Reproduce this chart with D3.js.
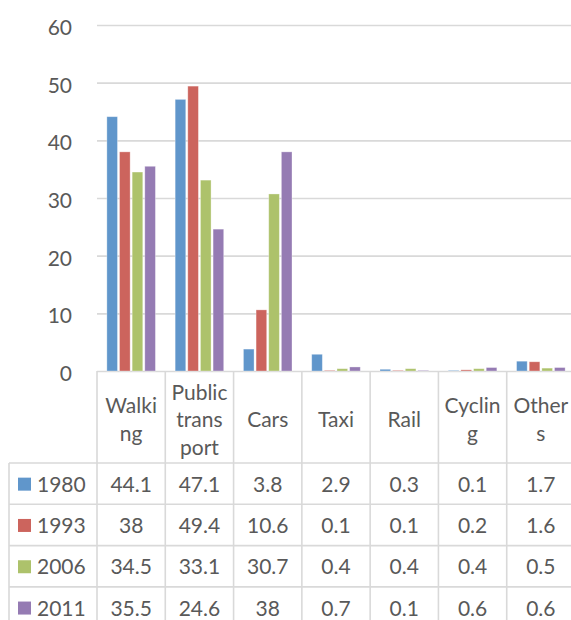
<!DOCTYPE html>
<html>
<head>
<meta charset="utf-8">
<script src="https://cdn.jsdelivr.net/npm/d3@7"></script>
<style>
  body { margin: 0; background: #fff; }
  text { font-family: Lato, "Open Sans", sans-serif; fill: #595959; }
</style>
</head>
<body>
<svg id="chart"></svg>
<script>
const categories = ['Walking', 'Public transport', 'Cars', 'Taxi', 'Rail', 'Cycling', 'Others'];
const categoryLines = [['Walki', 'ng'], ['Public', 'trans', 'port'], ['Cars'], ['Taxi'], ['Rail'], ['Cyclin', 'g'], ['Other', 's']];
const years = ['1980', '1993', '2006', '2011'];
const values1980 = [44.1, 47.1, 3.8, 2.9, 0.3, 0.1, 1.7];
const values1993 = [38, 49.4, 10.6, 0.1, 0.1, 0.2, 1.6];
const values2006 = [34.5, 33.1, 30.7, 0.4, 0.4, 0.4, 0.5];
const values2011 = [35.5, 24.6, 38, 0.7, 0.1, 0.6, 0.6];
const yTicks = [0, 10, 20, 30, 40, 50, 60];
const colors = ['#6096cb', '#cc645d', '#adc26b', '#957bb3'];

const series = [values1980, values1993, values2006, values2011];

const width = 571;
const height = 620;
const plot = { left: 97, right: 575, top: 25, bottom: 371 };
const headerBottom = 463;
const rowH = 41.3;
const tableLeft = 9;
const gridColor = '#d9d9d9';
const fontSize = 21;

const svg = d3.select('#chart').attr('width', width).attr('height', height);

const x0 = d3.scaleBand()
  .domain(categories)
  .range([plot.left, plot.right]);

const x1 = d3.scaleBand()
  .domain(years)
  .range([0, x0.bandwidth()])
  .paddingInner(0.16)
  .paddingOuter(0.78);

const y = d3.scaleLinear()
  .domain([0, 60])
  .range([plot.bottom, plot.top]);

const rows = d3.scaleBand()
  .domain(years)
  .range([headerBottom, headerBottom + rowH * years.length]);

const color = d3.scaleOrdinal().domain(years).range(colors);

// gridlines + y labels
const yAxis = svg.append('g')
  .attr('transform', `translate(${plot.left},0)`)
  .call(d3.axisLeft(y).tickValues(yTicks).tickSize(-(width - plot.left)).tickPadding(25));
yAxis.select('.domain').remove();
yAxis.selectAll('.tick line').attr('stroke', gridColor).attr('stroke-width', 1.6);
yAxis.selectAll('.tick text')
  .attr('font-size', fontSize)
  .attr('dy', '0.45em')
  .style('fill', '#595959');

// bars
const groups = svg.append('g').selectAll('g')
  .data(categories)
  .enter().append('g')
  .attr('transform', d => `translate(${x0(d)},0)`);

groups.selectAll('rect')
  .data((d, i) => years.map((yr, j) => ({ year: yr, value: series[j][i] })))
  .enter().append('rect')
  .attr('x', d => x1(d.year))
  .attr('y', d => y(d.value))
  .attr('width', x1.bandwidth())
  .attr('height', d => y(0) - y(d.value))
  .attr('fill', d => color(d.year))
  .attr('stroke', '#fff')
  .attr('stroke-opacity', 0.4)
  .attr('stroke-width', 0.8);

// table lines
const table = svg.append('g').attr('stroke', gridColor).attr('stroke-width', 1.6);
const colEdges = categories.map(c => x0(c)).concat([plot.right]);
table.selectAll('.vline')
  .data(colEdges)
  .enter().append('line')
  .attr('x1', d => d).attr('x2', d => d)
  .attr('y1', plot.bottom).attr('y2', height);
table.append('line')
  .attr('x1', tableLeft).attr('x2', tableLeft)
  .attr('y1', headerBottom).attr('y2', height);
table.selectAll('.hline')
  .data(years)
  .enter().append('line')
  .attr('x1', tableLeft).attr('x2', plot.right)
  .attr('y1', d => rows(d)).attr('y2', d => rows(d));

// category header labels
const headerMid = 420;
const lineH = 27.5;
svg.append('g').selectAll('text')
  .data(categoryLines)
  .enter().append('text')
  .attr('text-anchor', 'middle')
  .attr('font-size', fontSize)
  .each(function (lines, i) {
    const t = d3.select(this);
    const cx = x0(categories[i]) + x0.bandwidth() / 2;
    lines.forEach((ln, k) => {
      t.append('tspan')
        .attr('x', cx)
        .attr('y', headerMid - (lines.length - 1) * lineH / 2 + k * lineH + 7)
        .text(ln);
    });
  });

// legend keys + year labels
const legend = svg.append('g').selectAll('g')
  .data(years)
  .enter().append('g')
  .attr('transform', d => `translate(0,${rows(d) + rows.bandwidth() / 2})`);

legend.append('rect')
  .attr('x', 18).attr('y', -6)
  .attr('width', 13).attr('height', 13)
  .attr('fill', d => color(d));

legend.append('text')
  .attr('x', 37).attr('y', 8)
  .attr('font-size', fontSize)
  .text(d => d);

// table values
years.forEach((yr, j) => {
  svg.append('g').selectAll('text')
    .data(series[j])
    .enter().append('text')
    .attr('x', (d, i) => x0(categories[i]) + x0.bandwidth() / 2)
    .attr('y', rows(yr) + rows.bandwidth() / 2 + 8)
    .attr('text-anchor', 'middle')
    .attr('font-size', fontSize)
    .text(d => d);
});
</script>
</body>
</html>
